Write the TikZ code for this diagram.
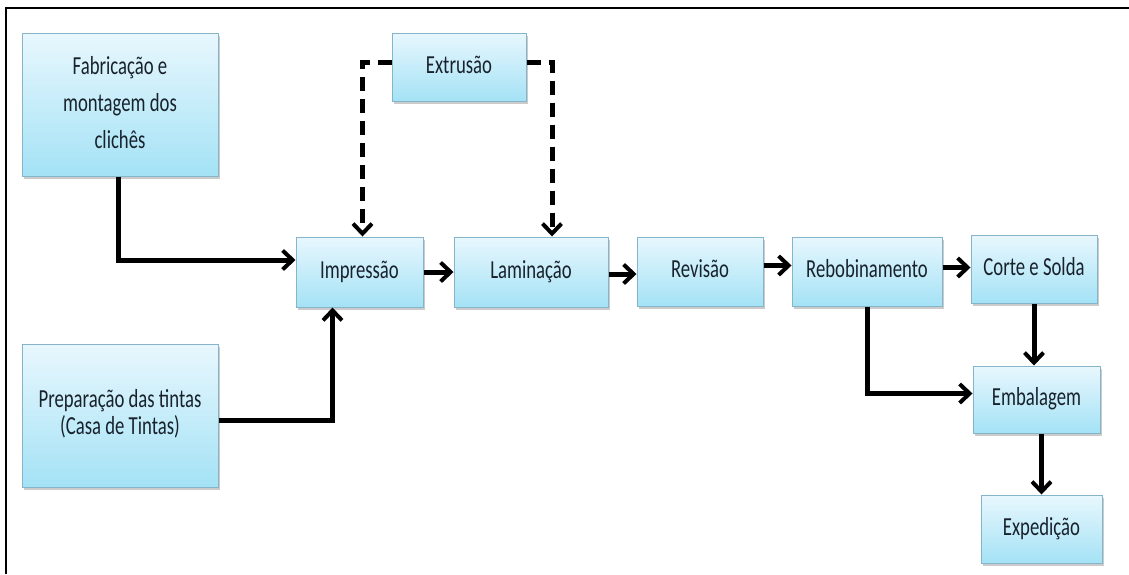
\documentclass[tikz,border=0pt]{standalone}
\usepackage{fontspec}
\setmainfont{Carlito}
\usetikzlibrary{arrows.meta,shadows,calc}
\definecolor{boxtop}{HTML}{E8F7FD}
\definecolor{boxbot}{HTML}{A4E2F6}
\definecolor{boxline}{HTML}{86B4C8}
\definecolor{txt}{HTML}{18222C}
\newcommand\boxtext[3][30]{\raisebox{#2pt}{\scalebox{0.72}[1]{\fontsize{26}{#1}\selectfont\begin{tabular}{@{}c@{}}#3\end{tabular}}}}
\tikzset{
  box/.style={draw=boxline, line width=1pt, top color=boxtop, bottom color=boxbot,
    drop shadow={shadow xshift=1.5pt, shadow yshift=-3pt, fill=black!45, opacity=0.45},
    inner sep=0pt, text=txt, align=center},
  arr/.style={line width=5pt, -{Straight Barb[length=10pt,width=19pt,line width=4pt]}},
  darr/.style={arr, dash pattern=on 14pt off 8pt},
  frame/.style={line width=2pt}
}
\begin{document}
\begin{tikzpicture}[x=1pt,y=-1pt]
\useasboundingbox (0,0) rectangle (1129,574);
\draw[frame] (6,574) -- (6,8) -- (1129,8);

\node[box, minimum width=196pt, minimum height=143pt] (fab) at (120,104.5) {\boxtext[37]{4}{Fabricação e\\montagem dos\\clichês}};
\node[box, minimum width=134pt, minimum height=68pt] (ext) at (459,67) {\boxtext{4}{Extrusão}};
\node[box, minimum width=127pt, minimum height=70pt] (imp) at (359.5,272) {\boxtext{4}{Impressão}};
\node[box, minimum width=154pt, minimum height=70pt] (lam) at (531,272) {\boxtext{4}{Laminação}};
\node[box, minimum width=126pt, minimum height=69pt] (rev) at (700,271.5) {\boxtext{4}{Revisão}};
\node[box, minimum width=150pt, minimum height=69pt] (reb) at (867,271.5) {\boxtext{4}{Rebobinamento}};
\node[box, minimum width=126pt, minimum height=68pt] (cor) at (1034,269) {\boxtext{5}{Corte e Solda}};
\node[box, minimum width=127pt, minimum height=67pt] (emb) at (1036.5,399.5) {\boxtext{5}{Embalagem}};
\node[box, minimum width=121pt, minimum height=68pt] (exp) at (1041.5,529) {\boxtext{5}{Expedição}};
\node[box, minimum width=196pt, minimum height=143pt] (prep) at (120,415.5) {\boxtext[27]{6}{Preparação das tintas\\(Casa de Tintas)}};

\draw[arr] ([xshift=-2pt]fab.south) |- ([yshift=12pt]imp.west);
\draw[arr] ([yshift=-5pt]prep.east) -| ([xshift=-27pt]imp.south);
\draw[darr] ([yshift=5pt]ext.west) -| ([xshift=3pt]imp.north);
\draw[darr] ([yshift=5pt]ext.east) -| ([xshift=21pt]lam.north);
\draw[arr] (imp.east) -- (imp.east -| lam.west);
\draw[arr] ([yshift=-2pt]lam.east) -- ([yshift=-2pt]lam.east -| rev.west);
\draw[arr] ([yshift=6pt]rev.east) -- ([yshift=6pt]rev.east -| reb.west);
\draw[arr] ([yshift=4pt]reb.east) -- ([yshift=4pt]reb.east -| cor.west);
\draw[arr] (reb.south) |- ([yshift=6pt]emb.west);
\draw[arr] (cor.south) -- (cor.south |- emb.north);
\draw[arr] (exp.north |- emb.south) -- (exp.north);
\end{tikzpicture}
\end{document}
